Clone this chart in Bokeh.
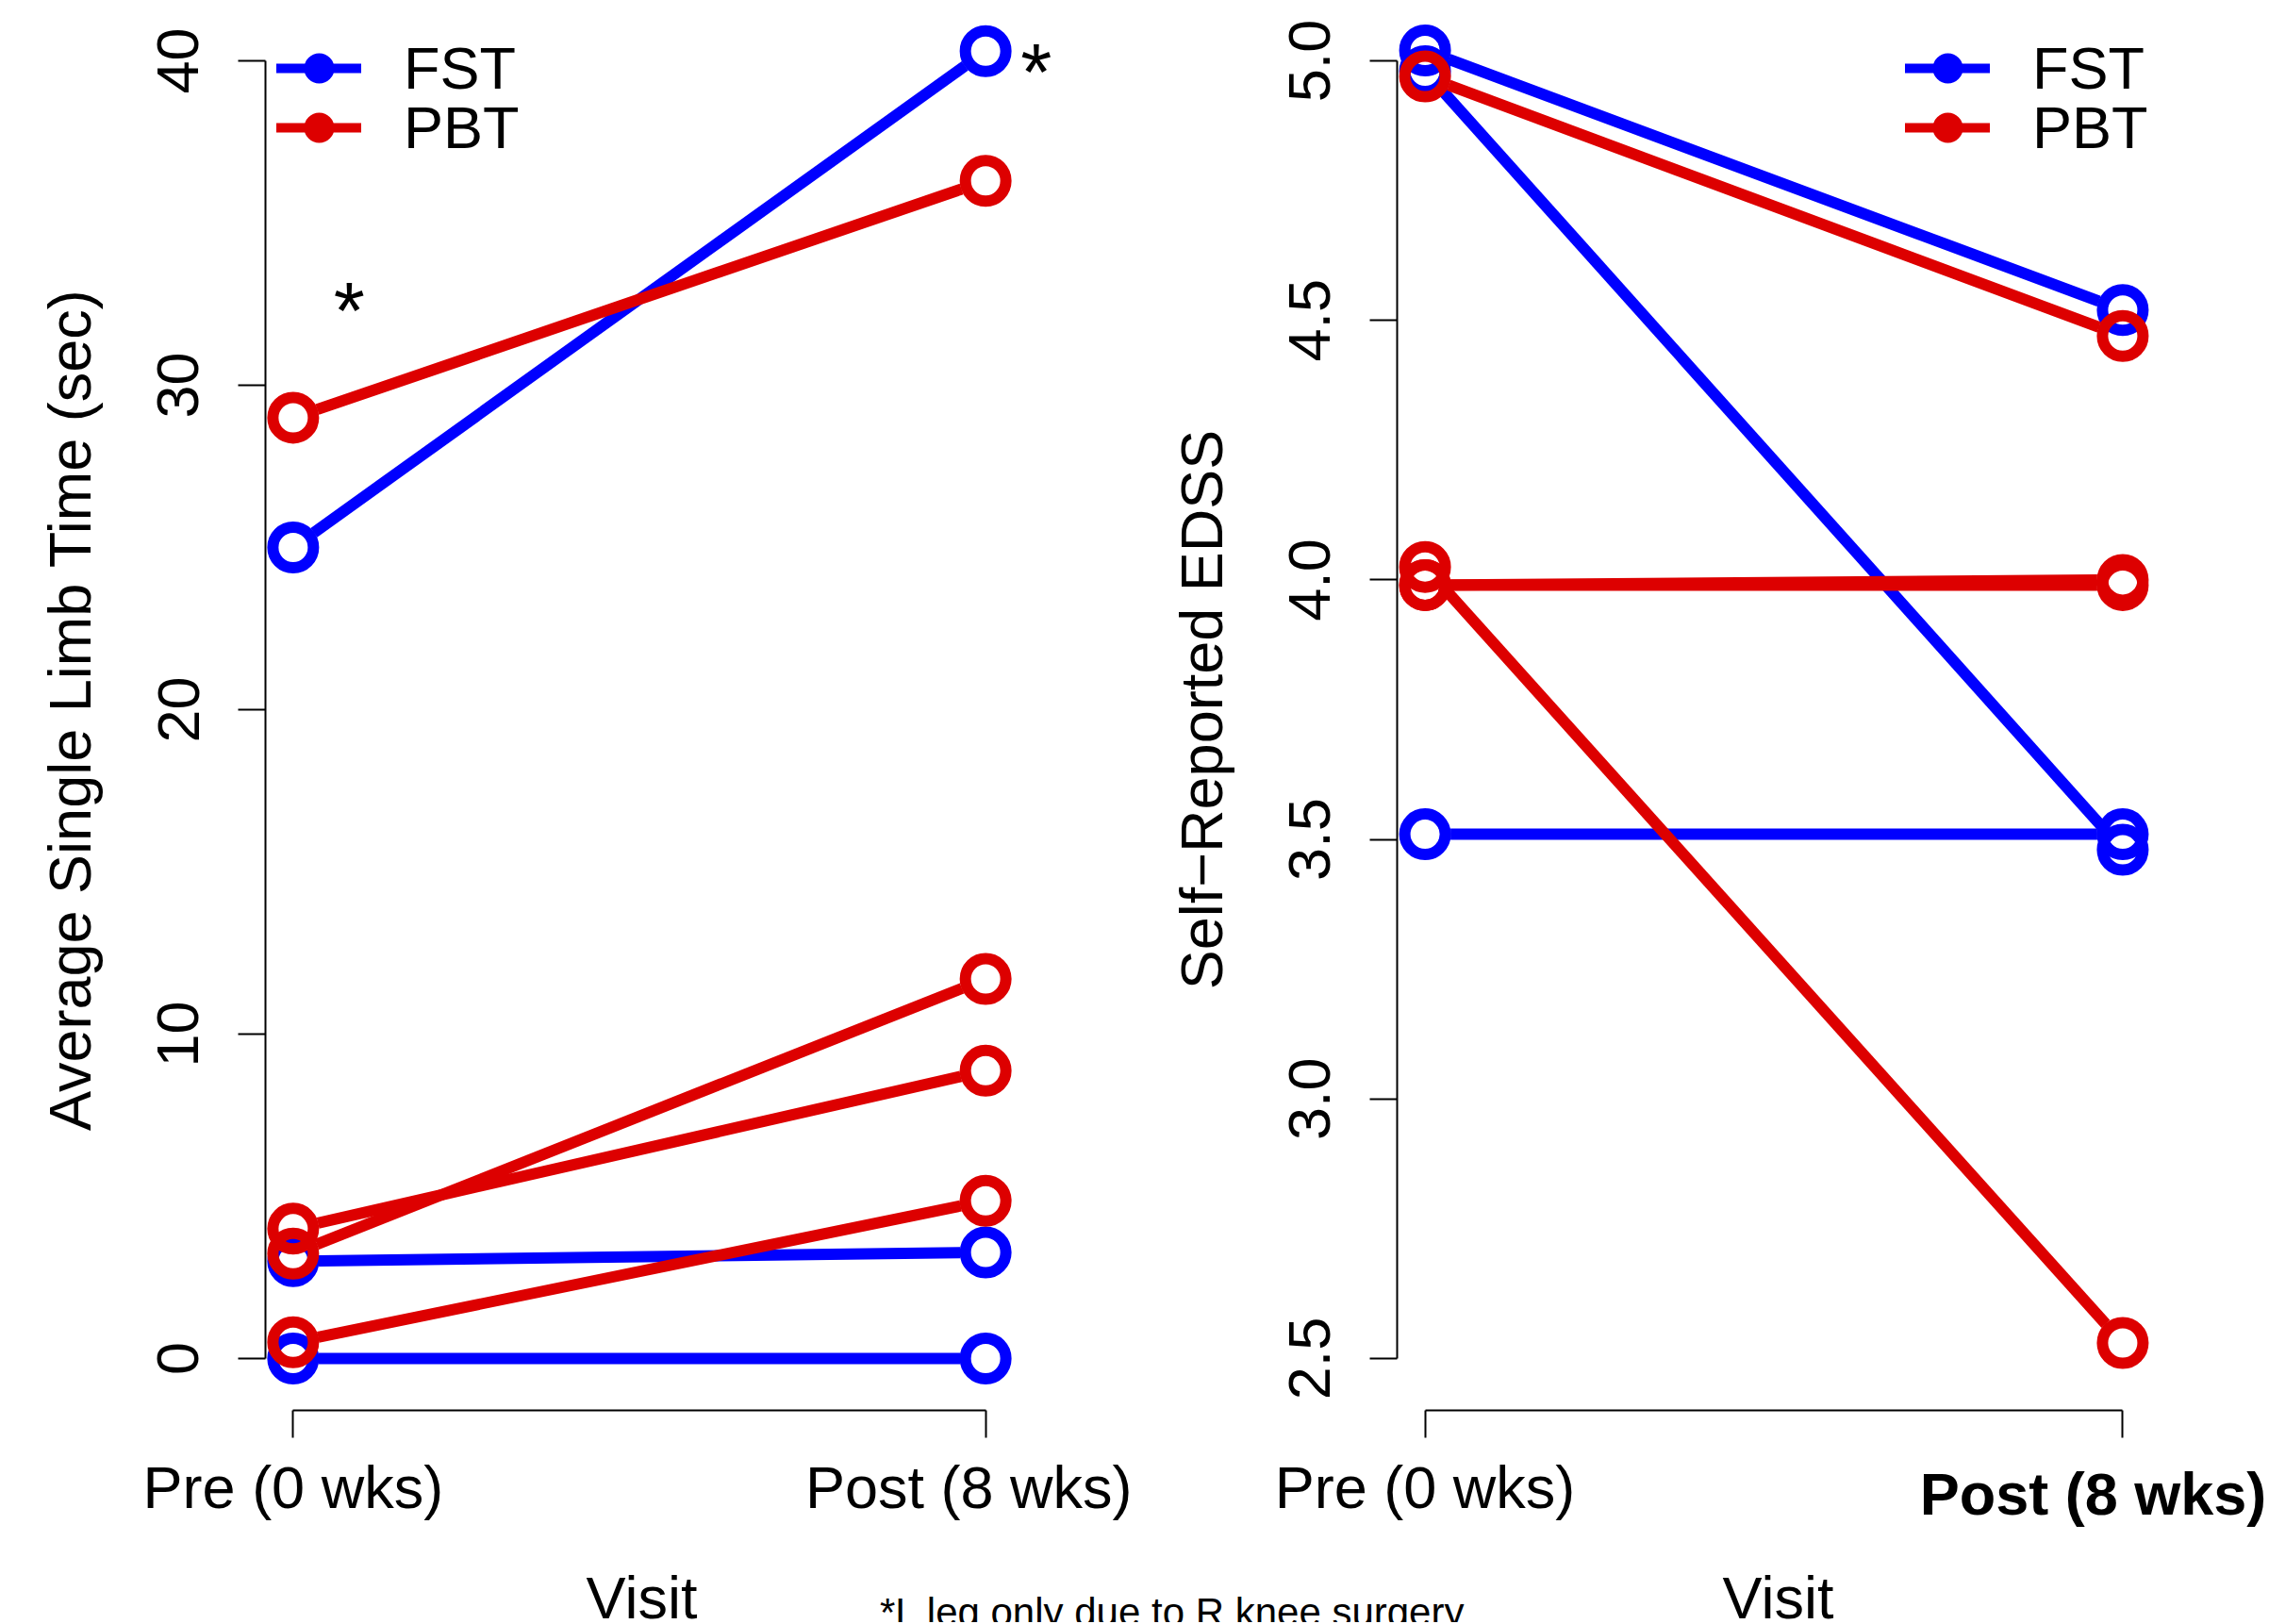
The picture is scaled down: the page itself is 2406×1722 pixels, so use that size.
import math
from bokeh.plotting import figure
from bokeh.models import (Range1d, FixedTicker, Legend, LegendItem, Label,
                          ColumnDataSource, LinearAxis)
from bokeh.layouts import row, column
from bokeh.embed import file_html
from bokeh.resources import INLINE

# ---------------- data ----------------
visit_x = [1, 2]
visit_labels = ["Pre (0 wks)", "Post (8 wks)"]
groups = ["FST", "PBT"]

# Panel 1: Average Single Limb Time (sec)
slt_fst_pre = [25.0, 3.0, 0.0]
slt_fst_post = [40.3, 3.27, 0.0]
slt_pbt_pre = [29.0, 4.0, 3.23, 0.5]
slt_pbt_post = [36.3, 8.87, 11.7, 4.86]
slt_yticks = [0, 10, 20, 30, 40]
slt_ytick_labels = ["0", "10", "20", "30", "40"]

# Panel 2: Self-Reported EDSS
edss_fst_pre = [5.02, 4.98, 3.51]
edss_fst_post = [4.52, 3.48, 3.51]
edss_pbt_pre = [4.97, 4.025, 3.99, 3.99]
edss_pbt_post = [4.47, 2.53, 4.00, 3.99]
edss_yticks = [2.5, 3.0, 3.5, 4.0, 4.5, 5.0]
edss_ytick_labels = ["2.5", "3.0", "3.5", "4.0", "4.5", "5.0"]

# annotation asterisks (panel 1), data coordinates
star_x = [1.081, 2.073]
star_y = [32.3, 39.65]

footnote = "*L leg only due to R knee surgery"
x_title = "Visit"

# ---------------- style ----------------
BLUE = "#0000FF"
RED = "#DD0000"
FONT = "Liberation Sans"
FS = "63px"
H = 1630
MBB = 135
GAP = 27.0
NAN = float("nan")


def gap_segments(pre, post, kx, ky):
    x0s, y0s, x1s, y1s = [], [], [], []
    xa, xb = visit_x
    for a, b in zip(pre, post):
        L = math.hypot(kx * (xb - xa), ky * (b - a))
        f = GAP / L
        x0s.append(xa + f * (xb - xa)); y0s.append(a + f * (b - a))
        x1s.append(xb - f * (xb - xa)); y1s.append(b - f * (b - a))
    return dict(x0=x0s, y0=y0s, x1=x1s, y1=y1s)


def make_panel(W, mbl, mbr, mbt, xr, yr, yticks, ylabels, ylabel, fst, pbt, legend_x, blank_post):
    p = figure(width=W, height=H, x_range=Range1d(*xr), y_range=Range1d(*yr),
               output_backend="svg", toolbar_location=None,
               min_border_left=mbl, min_border_right=mbr,
               min_border_top=mbt, min_border_bottom=MBB)
    p.outline_line_color = None
    p.grid.visible = False
    p.background_fill_color = "white"
    p.border_fill_color = "white"
    fw = W - mbl - mbr
    fh = H - mbt - MBB
    kx = fw / (xr[1] - xr[0])
    ky = fh / (yr[1] - yr[0])

    for (pre, post), col in zip([fst, pbt], [BLUE, RED]):
        src = ColumnDataSource(gap_segments(pre, post, kx, ky))
        p.segment(x0="x0", y0="y0", x1="x1", y1="y1", source=src,
                  line_color=col, line_width=12)
        pts = ColumnDataSource(dict(x=[visit_x[0]] * len(pre) + [visit_x[1]] * len(post),
                                    y=list(pre) + list(post)))
        p.scatter(x="x", y="y", source=pts, marker="circle", size=43,
                  fill_color=None, line_color=col, line_width=12)

    # legend (one legend per group so the row spacing can be matched)
    for g, col, cy in zip(groups, [BLUE, RED], [73, 136]):
        lr = p.line(x=[NAN], y=[NAN], line_color=col, line_width=10, line_cap="round")
        sr = p.scatter(x=[NAN], y=[NAN], marker="circle", fill_color=col,
                       line_color=col, line_width=4)
        leg = Legend(items=[LegendItem(label=g, renderers=[lr, sr])],
                     location=(legend_x, 1495 - cy - 35), orientation="vertical",
                     glyph_width=90, glyph_height=70, label_height=70, label_standoff=45,
                     spacing=0, padding=0, margin=0,
                     border_line_color=None, background_fill_alpha=0,
                     label_text_font=FONT, label_text_font_size=FS,
                     label_text_color="black")
        p.add_layout(leg, "center")

    # x axis
    xa = p.xaxis[0]
    xa.ticker = FixedTicker(ticks=visit_x)
    xa.major_label_overrides = {visit_x[0]: visit_labels[0],
                                visit_x[1]: ("" if blank_post else visit_labels[1])}
    xa.bounds = (visit_x[0], visit_x[1])
    # y axis
    ya = p.yaxis[0]
    ya.ticker = FixedTicker(ticks=yticks)
    ya.major_label_overrides = dict(zip(yticks, ylabels))
    ya.bounds = (yticks[0], yticks[-1])
    ya.major_label_orientation = "vertical"
    ya.axis_label = ylabel
    ya.axis_label_standoff = 56
    ya.axis_label_text_font = FONT
    ya.axis_label_text_font_size = FS
    ya.axis_label_text_font_style = "normal"
    ya.axis_label_text_color = "black"
    for ax in (xa, ya):
        ax.axis_line_color = "black"
        ax.axis_line_width = 2
        ax.major_tick_line_color = "black"
        ax.major_tick_line_width = 2
        ax.major_tick_out = 29
        ax.major_tick_in = 0
        ax.minor_tick_line_color = None
        ax.major_label_text_font = FONT
        ax.major_label_text_font_size = FS
        ax.major_label_text_color = "black"
    xa.major_label_standoff = 17
    ya.major_label_standoff = 42
    return p, kx


pL, kxL = make_panel(1200, 281, 50, 9, (0.96, 2.1435), (-1.6, 41.6),
                     slt_yticks, slt_ytick_labels, "Average Single Limb Time (sec)",
                     (slt_fst_pre, slt_fst_post), (slt_pbt_pre, slt_pbt_post), 12, False)
for sx, sy in zip(star_x, star_y):
    pL.add_layout(Label(x=sx, y=sy, text="*", text_align="center", text_baseline="alphabetic",
                        text_font=FONT, text_font_size="85px", text_color="black"))

xrR = (0.96, 2.04)
pR, kxR = make_panel(1204, 281, 124, 8, xrR, (2.4, 5.1),
                     edss_yticks, edss_ytick_labels, "Self\u2212Reported EDSS",
                     (edss_fst_pre, edss_fst_post), (edss_pbt_pre, edss_pbt_post), 539, True)
# bold "Post (8 wks)" label of the right panel, drawn by a second (invisible) axis
shift = 31.4 / kxR
pR.extra_x_ranges = {"postlab": Range1d(xrR[0] + shift, xrR[1] + shift)}
ax2 = LinearAxis(x_range_name="postlab", ticker=FixedTicker(ticks=[visit_x[1]]),
                 major_label_overrides={visit_x[1]: visit_labels[1]},
                 axis_line_color=None, major_tick_line_color=None,
                 minor_tick_line_color=None, major_tick_out=0, major_tick_in=0,
                 major_label_standoff=-66, major_label_text_font=FONT,
                 major_label_text_font_size=FS, major_label_text_font_style="bold",
                 major_label_text_color="black")
pR.add_layout(ax2, "below")

# bottom strip: x-axis titles and footnote
pS = figure(width=2404, height=90, x_range=Range1d(0, 1), y_range=Range1d(0, 1),
            output_backend="svg", toolbar_location=None,
            x_axis_location=None, y_axis_location=None, min_border=0)
pS.outline_line_color = None
pS.grid.visible = False
pS.background_fill_color = "white"
pS.border_fill_color = "white"
for xs in (680, 1885):
    pS.add_layout(Label(x=xs, y=27, x_units="screen", y_units="screen", text=x_title,
                        text_align="center", text_baseline="alphabetic",
                        text_font=FONT, text_font_size=FS, text_color="black"))
pS.add_layout(Label(x=1243, y=11, x_units="screen", y_units="screen",
                    text=footnote, text_align="center",
                    text_baseline="alphabetic", text_font=FONT, text_font_size="42px",
                    text_color="black"))

layout = column(row(pL, pR), pS)
open("out.html", "w").write(file_html(layout, INLINE))
